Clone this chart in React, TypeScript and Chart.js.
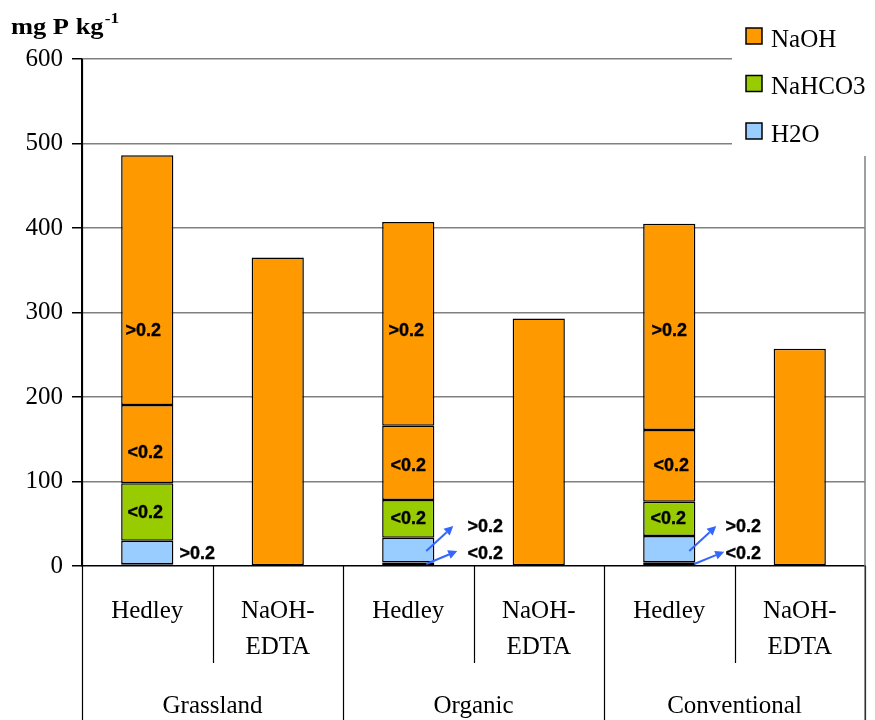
import { useEffect, useRef } from "react";
import { Chart, registerables } from "chart.js";

Chart.register(...registerables);

// Extraction methods within each land-use group
const subCategories: string[][] = [
  ["Hedley"], ["NaOH-", "EDTA"],
  ["Hedley"], ["NaOH-", "EDTA"],
  ["Hedley"], ["NaOH-", "EDTA"],
];
const groups = ["Grassland", "Organic", "Conventional"];

// Y axis range (mg P kg-1)
const yMin = 0;
const yMax = 600;
const yStep = 100;

// Fractions of the Hedley sequence (<0.2 / >0.2 µm), and single-step NaOH-EDTA
const h2oBelow = [2, null, 4, null, 4.5, null];
const h2oAbove = [28, null, 29.5, null, 31, null];
const nahco3Below = [68, null, 44.5, null, 40.5, null];
const naohBelow = [92.5, null, 88, null, 85, null];
const naohAbove = [295.5, null, 241, null, 244, null];
const naohEdta = [null, 365, null, 293, null, 257];

// Legend entries
const legendNames = ["NaOH", "NaHCO3", "H2O"];

const COLORS: Record<string, string> = {
  NaOH: "#FF9900",
  NaHCO3: "#99CC00",
  H2O: "#99CCFF",
};

const SERIF = "'Liberation Serif', 'Times New Roman', serif";
const SANS = "'Liberation Sans', Arial, sans-serif";

// Size-fraction labels: category index, y value where the text sits, x shift in px
const fractionLabels = [
  { cat: 0, value: 278, dx: -4, text: ">0.2" },
  { cat: 0, value: 134, dx: -2, text: "<0.2" },
  { cat: 0, value: 63, dx: -2, text: "<0.2" },
  { cat: 0, value: 14, dx: 50, text: ">0.2" },
  { cat: 2, value: 278, dx: -2, text: ">0.2" },
  { cat: 2, value: 118, dx: 0, text: "<0.2" },
  { cat: 2, value: 56, dx: 0, text: "<0.2" },
  { cat: 2, value: 46.5, dx: 77, text: ">0.2" },
  { cat: 2, value: 14, dx: 77, text: "<0.2" },
  { cat: 4, value: 278, dx: 0, text: ">0.2" },
  { cat: 4, value: 118, dx: 2, text: "<0.2" },
  { cat: 4, value: 56, dx: -1, text: "<0.2" },
  { cat: 4, value: 46.5, dx: 74, text: ">0.2" },
  { cat: 4, value: 14, dx: 74, text: "<0.2" },
];

// Pointer arrows from the thin H2O fractions to their labels
const pointerArrows = [
  { cat: 2, from: 17.7, to: 47.3, dx0: 18, dx1: 45 },
  { cat: 2, from: 2.4, to: 17.7, dx0: 18, dx1: 49 },
  { cat: 4, from: 17.7, to: 47.3, dx0: 20, dx1: 47 },
  { cat: 4, from: 2.4, to: 16.8, dx0: 25, dx1: 55 },
];

const decorPlugin = {
  id: "decor",
  afterDraw(chart: any) {
    const { ctx, chartArea, scales } = chart;
    const { left, right, top, bottom } = chartArea;
    const H = chart.height;
    const n = subCategories.length;
    const w = (right - left) / n;
    const x = scales.x;
    const y = scales.y;

    ctx.save();

    // right frame of plot area
    ctx.strokeStyle = "#808080";
    ctx.lineWidth = 1.5;
    ctx.beginPath();
    ctx.moveTo(right, top);
    ctx.lineTo(right, bottom);
    ctx.stroke();

    // category divider lines below the axis
    ctx.strokeStyle = "#000";
    ctx.lineWidth = 1.2;
    for (let i = 0; i <= n; i++) {
      const xx = Math.round(left + i * w) + 0.5;
      const groupEdge = i % 2 === 0;
      ctx.beginPath();
      ctx.moveTo(xx, i === 0 ? top : bottom);
      ctx.lineTo(xx, groupEdge ? H : bottom + 97);
      ctx.stroke();
    }
    ctx.strokeStyle = "#555";
    ctx.beginPath();
    ctx.moveTo(right, bottom);
    ctx.lineTo(right, H);
    ctx.stroke();

    // sub-category labels
    ctx.fillStyle = "#000";
    ctx.font = `25px ${SERIF}`;
    ctx.textAlign = "center";
    ctx.textBaseline = "alphabetic";
    subCategories.forEach((lines, i) => {
      const cx = x.getPixelForValue(i);
      lines.forEach((t, j) => ctx.fillText(t, cx, bottom + 52 + j * 36));
    });
    // group labels
    groups.forEach((g, i) => {
      const cx = left + (i * 2 + 1) * w;
      ctx.fillText(g, cx, H - 7);
    });

    // fraction labels (slightly heavy bold)
    ctx.font = `bold 18px ${SANS}`;
    ctx.textBaseline = "middle";
    ctx.strokeStyle = "#000";
    ctx.lineWidth = 0.35;
    fractionLabels.forEach((l) => {
      const tx = x.getPixelForValue(l.cat) + l.dx;
      const ty = y.getPixelForValue(l.value);
      ctx.fillText(l.text, tx, ty);
      ctx.strokeText(l.text, tx, ty);
    });

    // arrows
    ctx.strokeStyle = "#3366FF";
    ctx.fillStyle = "#3366FF";
    ctx.lineWidth = 2;
    pointerArrows.forEach((a) => {
      const cx = x.getPixelForValue(a.cat);
      const x0 = cx + a.dx0;
      const y0 = y.getPixelForValue(a.from);
      const x1 = cx + a.dx1;
      const y1 = y.getPixelForValue(a.to);
      const ang = Math.atan2(y1 - y0, x1 - x0);
      const hl = 9;
      const bx = x1 - hl * Math.cos(ang);
      const by = y1 - hl * Math.sin(ang);
      ctx.beginPath();
      ctx.moveTo(x0, y0);
      ctx.lineTo(bx, by);
      ctx.stroke();
      ctx.beginPath();
      ctx.moveTo(x1, y1);
      ctx.lineTo(bx + 4.5 * Math.sin(ang), by - 4.5 * Math.cos(ang));
      ctx.lineTo(bx - 4.5 * Math.sin(ang), by + 4.5 * Math.cos(ang));
      ctx.closePath();
      ctx.fill();
    });

    // legend box
    ctx.fillStyle = "#fff";
    ctx.fillRect(732, 0, chart.width - 732, 156);
    ctx.font = `25px ${SERIF}`;
    ctx.textAlign = "left";
    ctx.textBaseline = "alphabetic";
    legendNames.forEach((name, i) => {
      const sy = 28 + i * 47.5;
      ctx.fillStyle = COLORS[name];
      ctx.fillRect(746, sy, 16, 16);
      ctx.strokeStyle = "#000";
      ctx.lineWidth = 1.5;
      ctx.strokeRect(746, sy, 16, 16);
      ctx.fillStyle = "#000";
      ctx.fillText(name, 771, sy + 18.5);
    });

    // axis title with superscript unit
    ctx.fillStyle = "#000";
    ctx.textBaseline = "alphabetic";
    ctx.save();
    ctx.translate(11, 34);
    ctx.scale(1.15, 1);
    ctx.font = `bold 23px ${SERIF}`;
    ctx.fillText("mg P kg", 0, 0);
    const tw = ctx.measureText("mg P kg").width;
    ctx.font = `bold 15px ${SERIF}`;
    ctx.fillText("-1", tw + 1, -11);
    ctx.restore();

    ctx.restore();
  },
};

export default function App() {
  const canvasRef = useRef<HTMLCanvasElement | null>(null);

  useEffect(() => {
    document.body.style.margin = "0";
    const canvas = canvasRef.current;
    if (!canvas) return;

    const bar = (label: string, data: (number | null)[], color: string) => ({
      label,
      data,
      backgroundColor: color,
      borderColor: "#000",
      borderWidth: 1.5,
      borderSkipped: false,
      stack: "s",
      barPercentage: 0.4,
      categoryPercentage: 1,
    });

    const chart = new Chart(canvas, {
      type: "bar",
      data: {
        labels: subCategories.map((s) => s.join(" ")),
        datasets: [
          bar("H2O <0.2", h2oBelow, COLORS.H2O),
          bar("H2O >0.2", h2oAbove, COLORS.H2O),
          bar("NaHCO3 <0.2", nahco3Below, COLORS.NaHCO3),
          bar("NaOH <0.2", naohBelow, COLORS.NaOH),
          bar("NaOH >0.2", naohAbove, COLORS.NaOH),
          bar("NaOH-EDTA", naohEdta, COLORS.NaOH),
        ],
      },
      options: {
        animation: false,
        responsive: false,
        devicePixelRatio: 1,
        layout: { padding: { top: 59, right: 10, left: 0, bottom: 0 } },
        plugins: {
          legend: { display: false },
          tooltip: { enabled: false },
        },
        scales: {
          x: {
            stacked: true,
            grid: { display: false },
            ticks: { display: false },
            border: { display: true, color: "#000", width: 1.5 },
            afterFit: (s: any) => {
              s.height = 154;
            },
          },
          y: {
            stacked: true,
            min: yMin,
            max: yMax,
            ticks: {
              stepSize: yStep,
              color: "#000",
              padding: 9,
              font: { family: SERIF, size: 25 },
            },
            grid: {
              color: (c: any) => (c.tick && c.tick.value === 0 ? "rgba(0,0,0,0)" : "#808080"),
              lineWidth: 1.5,
              tickColor: "#000",
              tickLength: 10,
            },
            border: { display: true, color: "#000", width: 1.5 },
            afterFit: (s: any) => {
              s.width = 82;
            },
          },
        },
      },
      plugins: [decorPlugin],
    });

    return () => chart.destroy();
  }, []);

  return (
    <div style={{ width: 875, height: 720, background: "#fff" }}>
      <canvas ref={canvasRef} width={875} height={720} />
    </div>
  );
}
